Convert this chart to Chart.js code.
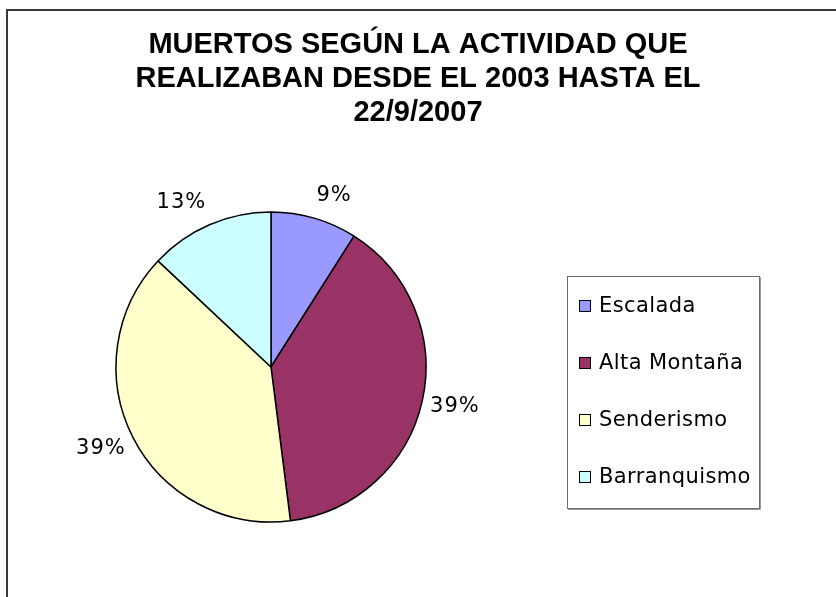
<!DOCTYPE html>
<html lang="es">
<head>
    <meta charset="UTF-8">
    <title>Muertos según la actividad</title>
    <style>
        html, body {
            margin: 0;
            padding: 0;
            background: #ffffff;
        }
        #wrap {
            width: 836px;
            height: 597px;
        }
    </style>
</head>
<body>
    <div id="wrap"><canvas id="pie" width="836" height="597"></canvas></div>

    <script src="https://cdn.jsdelivr.net/npm/chart.js@4.4.1/dist/chart.umd.min.js"></script>
    <script>
        // datos
        const titleLines = ['MUERTOS SEGÚN LA ACTIVIDAD QUE', 'REALIZABAN DESDE EL 2003 HASTA EL', '22/9/2007'];
        const activities = ['Escalada', 'Alta Montaña', 'Senderismo', 'Barranquismo'];
        const shares = [9, 39, 39, 13];
        const sliceColors = ['#9999FF', '#993366', '#FFFFCC', '#CCFFFF'];

        // marco exterior (como en la hoja de excel)
        const framePlugin = {
            id: 'frame',
            beforeDraw(chart) {
                const ctx = chart.ctx;
                ctx.save();
                ctx.fillStyle = '#3a3a3a';
                ctx.fillRect(6, 9, 830, 2);
                ctx.fillRect(6, 9, 2, 588);
                ctx.restore();
            }
        };

        // porcentajes fuera de cada porcion, estilo excel:
        // el texto se pega al lado que da al borde del circulo
        const percentPlugin = {
            id: 'percents',
            afterDatasetsDraw(chart) {
                const ctx = chart.ctx;
                const meta = chart.getDatasetMeta(0);
                const values = chart.data.datasets[0].data;
                const total = values.reduce((a, b) => a + b, 0);
                ctx.save();
                ctx.font = '21px "DejaVu Sans", sans-serif';
                ctx.letterSpacing = '1px';
                ctx.fillStyle = '#000';
                ctx.textAlign = 'center';
                ctx.textBaseline = 'middle';
                meta.data.forEach((arc, i) => {
                    const p = arc.getProps(['x', 'y', 'startAngle', 'endAngle', 'outerRadius'], true);
                    const mid = (p.startAngle + p.endAngle) / 2;
                    const cx = Math.cos(mid), cy = Math.sin(mid);
                    const d = p.outerRadius + 8;
                    const txt = Math.round(values[i] / total * 100) + '%';
                    const hw = ctx.measureText(txt).width / 2;
                    const x = p.x + cx * d + Math.sign(cx) * hw;
                    const y = p.y + cy * d + cy * 16;
                    ctx.fillText(txt, x, y);
                });
                ctx.restore();
            }
        };

        // leyenda a la derecha, como caja del layout de Chart.js
        function makeLegendBox(chart) {
            return {
                position: 'right',
                weight: 0,
                fullSize: false,
                options: {},
                isHorizontal() { return false; },
                update(maxWidth, maxHeight) {
                    this.width = 294;
                    this.height = maxHeight;
                },
                draw() {
                    const ctx = chart.ctx;
                    const bx = this.left + 25, by = 276, bw = 192, bh = 232;
                    ctx.save();
                    ctx.fillStyle = '#ffffff';
                    ctx.fillRect(bx, by, bw, bh);
                    ctx.strokeStyle = '#6e6e6e';
                    ctx.lineWidth = 1;
                    ctx.strokeRect(bx + 0.5, by + 0.5, bw, bh);
                    ctx.strokeStyle = '#9a9a9a';
                    ctx.beginPath();
                    ctx.moveTo(bx + 1, by + bh + 1.5);
                    ctx.lineTo(bx + bw + 1.5, by + bh + 1.5);
                    ctx.lineTo(bx + bw + 1.5, by + 1);
                    ctx.stroke();

                    const ds = chart.data.datasets[0];
                    ctx.font = '21px "DejaVu Sans", sans-serif';
                    ctx.letterSpacing = '0.4px';
                    ctx.textBaseline = 'middle';
                    ctx.textAlign = 'left';
                    chart.data.labels.forEach((lab, i) => {
                        const cy = by + 30 + i * 57;
                        ctx.fillStyle = ds.backgroundColor[i];
                        ctx.fillRect(bx + 12, cy - 6, 12, 12);
                        ctx.strokeStyle = '#000';
                        ctx.strokeRect(bx + 12.5, cy - 5.5, 11, 11);
                        ctx.fillStyle = '#000';
                        ctx.fillText(lab, bx + 32, cy + 1);
                    });
                    ctx.restore();
                }
            };
        }

        const legendBoxPlugin = {
            id: 'legendBox',
            beforeInit(chart) {
                Chart.layouts.addBox(chart, makeLegendBox(chart));
            }
        };

        new Chart(document.getElementById('pie'), {
            type: 'pie',
            data: {
                labels: activities,
                datasets: [{
                    data: shares,
                    backgroundColor: sliceColors,
                    borderColor: '#000000',
                    borderWidth: 1.5,
                    radius: 155
                }]
            },
            options: {
                responsive: false,
                animation: false,
                layout: { padding: { top: 0, bottom: 3, left: 0, right: 0 } },
                plugins: {
                    legend: { display: false },
                    tooltip: { enabled: false },
                    title: {
                        display: true,
                        text: titleLines,
                        color: '#000',
                        font: { family: '"Liberation Sans", Arial, sans-serif', size: 29, weight: 'bold', lineHeight: '34px' },
                        padding: { top: 28, bottom: 10 }
                    }
                }
            },
            plugins: [framePlugin, percentPlugin, legendBoxPlugin]
        });
    </script>
</body>
</html>
